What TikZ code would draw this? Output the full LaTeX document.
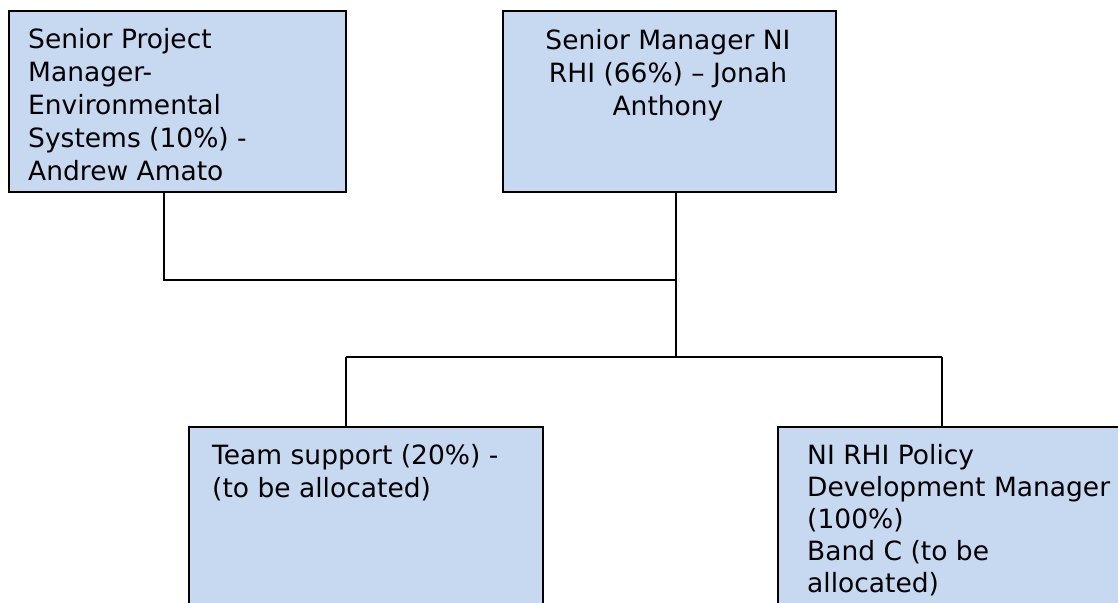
\documentclass[tikz,border=0pt]{standalone}
\usepackage{fontspec}
\setmainfont{DejaVu Sans}
\definecolor{boxfill}{RGB}{198,217,241}
\begin{document}
\begin{tikzpicture}[x=1pt,y=-1pt,
  orgbox/.style={draw=black, fill=boxfill, line width=1.6pt, rectangle, inner sep=0pt, anchor=north west},
  boxtext/.style={inner sep=0pt, anchor=north west, font=\fontsize{26.5}{33}\selectfont},
  link/.style={draw=black, line width=1.6pt}]
\useasboundingbox (0,0) rectangle (1118,602);
\clip (0,0) rectangle (1118,602);
\fill[white] (0,0) rectangle (1118,602);
% boxes
\node[orgbox, minimum width=337pt, minimum height=181pt] (b1) at (8,10) {};
\node[orgbox, minimum width=333pt, minimum height=181pt] (b2) at (502,10) {};
\node[orgbox, minimum width=354pt, minimum height=220pt] (b3) at (188,426) {};
\node[orgbox, minimum width=354pt, minimum height=220pt] (b4) at (777,426) {};
% texts
\node[boxtext, align=left] (t1) at (28,28) {Senior Project\\Manager-\\Environmental\\Systems (10\%) -\\Andrew Amato};
\node[boxtext, align=center, anchor=north] (t2) at (668,29) {Senior Manager NI\\RHI (66\%) – Jonah\\Anthony};
\node[boxtext, align=left] (t3) at (212,444) {Team support (20\%) -\\(to be allocated)};
\node[boxtext, align=left, font=\fontsize{26.5}{32}\selectfont] (t4) at (807,444) {NI RHI Policy\\Development Manager\\(100\%)\\Band C (to be\\allocated)};
% connectors
\coordinate (c1) at (164,280);
\coordinate (c2) at (676,280);
\coordinate (c3) at (676,357);
\coordinate (c4) at (346,357);
\coordinate (c5) at (942,357);
\draw[link] (b1.south -| c1) -- (c1) -- (c2);
\draw[link] (b2.south -| c2) -- (c3);
\draw[link] (c4) -- (c5);
\draw[link] (c4) -- (c4 |- b3.north);
\draw[link] (c5) -- (c5 |- b4.north);
\end{tikzpicture}
\end{document}
